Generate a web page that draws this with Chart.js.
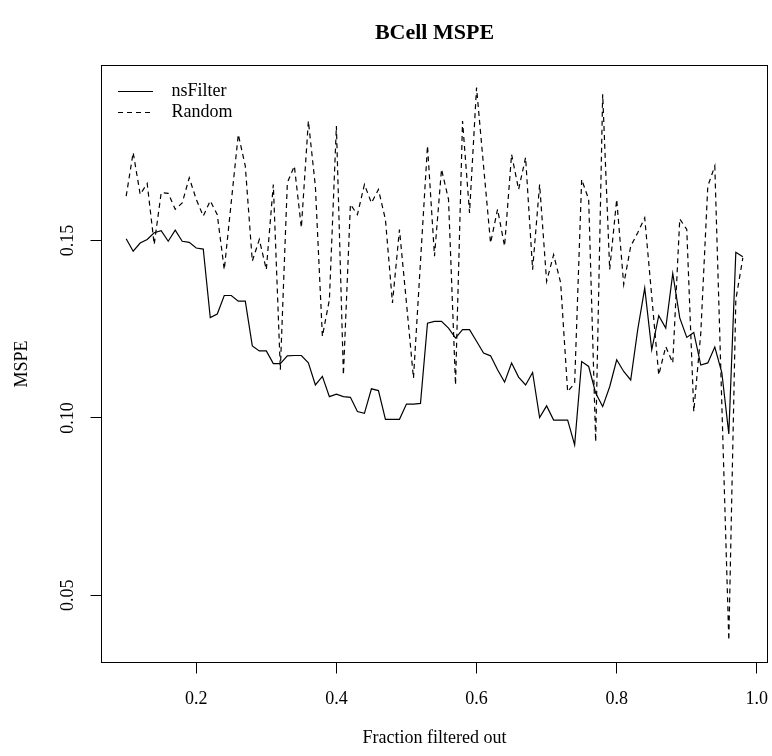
<!DOCTYPE html>
<html>
<head>
<meta charset="utf-8">
<title>BCell MSPE</title>
<script src="https://cdn.jsdelivr.net/npm/chart.js@4/dist/chart.umd.min.js"></script>
<style>
  html, body { margin: 0; padding: 0; background: #fff; }
  canvas { display: block; }
</style>
</head>
<body>
<canvas id="graficoMSPE" width="772" height="756"></canvas>
<script>
// fraction filtered out (x)
const fraccion = [
  0.10, 0.11, 0.12, 0.13, 0.14, 0.15, 0.16, 0.17, 0.18, 0.19,
  0.20, 0.21, 0.22, 0.23, 0.24, 0.25, 0.26, 0.27, 0.28, 0.29,
  0.30, 0.31, 0.32, 0.33, 0.34, 0.35, 0.36, 0.37, 0.38, 0.39,
  0.40, 0.41, 0.42, 0.43, 0.44, 0.45, 0.46, 0.47, 0.48, 0.49,
  0.50, 0.51, 0.52, 0.53, 0.54, 0.55, 0.56, 0.57, 0.58, 0.59,
  0.60, 0.61, 0.62, 0.63, 0.64, 0.65, 0.66, 0.67, 0.68, 0.69,
  0.70, 0.71, 0.72, 0.73, 0.74, 0.75, 0.76, 0.77, 0.78, 0.79,
  0.80, 0.81, 0.82, 0.83, 0.84, 0.85, 0.86, 0.87, 0.88, 0.89,
  0.90, 0.91, 0.92, 0.93, 0.94, 0.95, 0.96, 0.97, 0.98
];

const nsFilter = [
  0.1505, 0.1470, 0.1493, 0.1503, 0.1522, 0.1528, 0.1498, 0.1529, 0.1498, 0.1495,
  0.1479, 0.1476, 0.1283, 0.1293, 0.1345, 0.1345, 0.1329, 0.1329, 0.1203, 0.1189,
  0.1189, 0.1153, 0.1153, 0.1175, 0.1176, 0.1176, 0.1155, 0.1093, 0.1117, 0.1060,
  0.1067, 0.1060, 0.1058, 0.1018, 0.1013, 0.1082, 0.1077, 0.0996, 0.0996, 0.0996,
  0.1039, 0.1039, 0.1041, 0.1267, 0.1272, 0.1272, 0.1253, 0.1225, 0.1249, 0.1249,
  0.1216, 0.1183, 0.1175, 0.1136, 0.1101, 0.1155, 0.1115, 0.1093, 0.1128, 0.1001,
  0.1034, 0.0994, 0.0994, 0.0994, 0.0924, 0.1159, 0.1145, 0.1070, 0.1032, 0.1088,
  0.1164, 0.1131, 0.1107, 0.1249, 0.1366, 0.1192, 0.1288, 0.1253, 0.1407, 0.1282,
  0.1227, 0.1241, 0.1149, 0.1155, 0.1200, 0.1128, 0.0955, 0.1467, 0.1454
];

const aleatorio = [
  0.1625, 0.1748, 0.1630, 0.1661, 0.1489, 0.1635, 0.1633, 0.1588, 0.1606, 0.1677,
  0.1616, 0.1569, 0.1612, 0.1573, 0.1418, 0.1609, 0.1799, 0.1710, 0.1442, 0.1503,
  0.1418, 0.1658, 0.1136, 0.1663, 0.1710, 0.1536, 0.1837, 0.1653, 0.1230, 0.1333,
  0.1823, 0.1121, 0.1602, 0.1573, 0.1658, 0.1606, 0.1644, 0.1559, 0.1324, 0.1531,
  0.1324, 0.1112, 0.1440, 0.1767, 0.1456, 0.1701, 0.1616, 0.1093, 0.1837, 0.1578,
  0.1931, 0.1710, 0.1493, 0.1588, 0.1484, 0.1743, 0.1644, 0.1734, 0.1418, 0.1658,
  0.1385, 0.1460, 0.1381, 0.1074, 0.1098, 0.1672, 0.1616, 0.0933, 0.1912, 0.1418,
  0.1616, 0.1376, 0.1484, 0.1522, 0.1564, 0.1343, 0.1121, 0.1201, 0.1155, 0.1561,
  0.1531, 0.1018, 0.1239, 0.1653, 0.1710, 0.1040, 0.0373, 0.1333, 0.1451
];

const ticksX = [0.2, 0.4, 0.6, 0.8, 1.0];
const ticksY = [0.05, 0.10, 0.15];

// R style axis limits: data range plus 4% on each side
function rango(valores) {
    const lo = Math.min(...valores);
    const hi = Math.max(...valores);
    const pad = (hi - lo) * 0.04;
    return [lo - pad, hi + pad];
}
const [xMin, xMax] = rango(fraccion);
const [yMin, yMax] = rango(nsFilter.concat(aleatorio));

Chart.defaults.font.family = '"Liberation Serif", "Times New Roman", serif';
Chart.defaults.color = '#000';

// full box around the plot + legend in the top left corner
const marco = {
    id: 'marco',
    afterDatasetsDraw(chart) {
        const { ctx, chartArea: a } = chart;
        ctx.save();
        ctx.strokeStyle = '#000';
        ctx.lineWidth = 1;
        ctx.strokeRect(a.left, a.top, a.right - a.left, a.bottom - a.top);

        ctx.font = '18px "Liberation Serif"';
        ctx.textBaseline = 'middle';
        ctx.fillStyle = '#000';
        chart.data.datasets.forEach((ds, i) => {
            const y = Math.round(a.top + 25 + i * 21.3) + 0.5;
            ctx.setLineDash(ds.borderDash || []);
            ctx.lineWidth = ds.borderWidth;
            ctx.beginPath();
            ctx.moveTo(a.left + 16.5, y);
            ctx.lineTo(a.left + 51.5, y);
            ctx.stroke();
            ctx.setLineDash([]);
            ctx.fillText(ds.label, a.left + 70, y);
        });
        ctx.restore();
    }
};

const ejeGrid = {
    display: true,
    drawOnChartArea: false,
    drawTicks: true,
    tickLength: 11,
    tickColor: '#000',
    tickWidth: 1
};

const ctx = document.getElementById('graficoMSPE').getContext('2d');

new Chart(ctx, {
    type: 'line',
    data: {
        datasets: [{
            label: 'nsFilter',
            data: fraccion.map((f, i) => ({ x: f, y: nsFilter[i] })),
            borderColor: '#000',
            borderWidth: 1.2,
            pointRadius: 0,
            tension: 0,
            fill: false
        }, {
            label: 'Random',
            data: fraccion.map((f, i) => ({ x: f, y: aleatorio[i] })),
            borderColor: '#000',
            borderWidth: 1.2,
            borderDash: [5, 4],
            pointRadius: 0,
            tension: 0,
            fill: false
        }]
    },
    options: {
        responsive: false,
        animation: false,
        layout: {
            padding: { left: 0, right: 4.5, top: 0, bottom: 0 }
        },
        plugins: {
            legend: { display: false },
            tooltip: { enabled: false },
            title: {
                display: true,
                text: 'BCell MSPE',
                color: '#000',
                fullSize: false,
                font: { size: 22, weight: 'bold' },
                padding: { top: 19.8, bottom: 19.3 }
            }
        },
        scales: {
            x: {
                type: 'linear',
                min: xMin,
                max: xMax,
                afterBuildTicks: s => { s.ticks = ticksX.map(v => ({ value: v })); },
                afterFit: s => {
                    s.height = 93.5;
                    s.paddingLeft = 0;
                    s.paddingRight = 0;
                },
                grid: ejeGrid,
                border: { display: false },
                ticks: {
                    autoSkip: false,
                    maxRotation: 0,
                    padding: 14.8,
                    color: '#000',
                    font: { size: 18 },
                    callback: v => v.toFixed(1)
                },
                title: {
                    display: true,
                    text: 'Fraction filtered out',
                    color: '#000',
                    font: { size: 18 },
                    padding: { top: 0, bottom: 7.2 }
                }
            },
            y: {
                min: yMin,
                max: yMax,
                afterBuildTicks: s => { s.ticks = ticksY.map(v => ({ value: v })); },
                afterFit: s => {
                    s.width = 101.5;
                    s.paddingTop = 0;
                    s.paddingBottom = 0;
                },
                grid: ejeGrid,
                border: { display: false },
                ticks: {
                    autoSkip: false,
                    minRotation: 90,
                    maxRotation: 90,
                    crossAlign: 'center',
                    padding: 6.75,
                    color: '#000',
                    font: { size: 18 },
                    callback: v => v.toFixed(2)
                },
                title: {
                    display: true,
                    text: 'MSPE',
                    color: '#000',
                    font: { size: 18 },
                    padding: { top: 11.2, bottom: 0 }
                }
            }
        }
    },
    plugins: [marco]
});
</script>
</body>
</html>
